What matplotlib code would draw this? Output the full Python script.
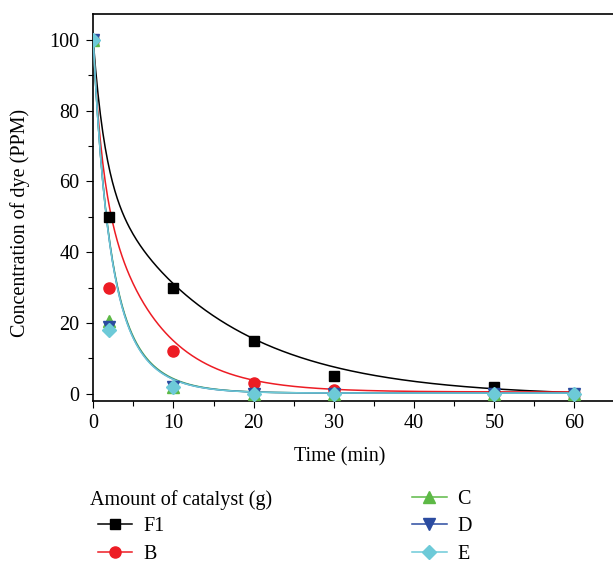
import numpy as np
import matplotlib
matplotlib.use('Agg')
import matplotlib.pyplot as plt
from matplotlib.lines import Line2D

plt.rcParams['font.family'] = ['Liberation Serif', 'DejaVu Serif']
plt.rcParams['font.size'] = 14.5

# measured points
time = [0, 2, 10, 20, 30, 50, 60]
f1 = [100, 50, 30, 15, 5, 2, 0]
b = [100, 30, 12, 3, 1, 0, 0]
c = [100, 20.5, 2, 0, 0, 0, 0]
d = [100, 19, 2, 0, 0, 0, 0]
e = [100, 18, 2, 0, 0, 0, 0]

# ExpDec2 fit parameters: A1, t1, A2, t2, y0
fit_f1 = [38.8, 1.5, 62.0, 15.0, -0.8]
fit_b = [36.5, 1.07, 63.0, 6.8, 0.5]
fit_c = [53.0, 1.6, 46.8, 4.05, 0.2]
fit_d = [53.5, 1.6, 46.3, 4.0, 0.2]
fit_e = [53.8, 1.6, 46.0, 3.98, 0.2]

labels = ['F1', 'B', 'C', 'D', 'E']
colors = ['black', '#ED1C24', '#5DB946', '#2B4BA0', '#6DCAD8']
markers = ['s', 'o', '^', 'v', 'D']
msizes = [7, 8, 8, 8, 7]


def expdec2(t, p):
    a1, t1, a2, t2, y0 = p
    return a1 * np.exp(-t / t1) + a2 * np.exp(-t / t2) + y0


fig = plt.figure(figsize=(6.13, 5.63), dpi=100)
ax = fig.add_axes([0.152, 0.288, 0.848, 0.687])

tt = np.linspace(0, 60, 400)
series = [f1, b, c, d, e]
fits = [fit_f1, fit_b, fit_c, fit_d, fit_e]
for i, (ys, p) in enumerate(zip(series, fits)):
    ax.plot(tt, expdec2(tt, p), color=colors[i], lw=1.1, zorder=2 + i)
    ax.plot(time, ys, linestyle='none', marker=markers[i], ms=msizes[i],
            color=colors[i], mec=colors[i], zorder=10 + i)

ax.set_xlim(0, 64.8)
ax.set_ylim(-2, 107.3)
ax.set_xticks(range(0, 61, 10))
ax.set_xticks(range(5, 61, 10), minor=True)
ax.set_yticks(range(0, 101, 20))
ax.set_yticks(range(10, 101, 20), minor=True)
ax.tick_params(which='major', direction='out', length=4.7, width=0.8, pad=5)
ax.tick_params(which='minor', direction='out', length=3.6, width=0.8)
ax.spines['right'].set_visible(False)
for s in ['left', 'bottom', 'top']:
    ax.spines[s].set_linewidth(1.2)

ax.set_xlabel('Time (min)')
ax.set_ylabel('Concentration of dye (PPM)')
ax.xaxis.set_label_coords(0.475, -0.12)
ax.yaxis.set_label_coords(-0.121, 0.46)

# legend: title cell in first column, entries arranged column-wise
handles = [Line2D([], [], linestyle='none')]
for i in range(5):
    handles.append(Line2D([], [], color=colors[i], marker=markers[i],
                          ms=msizes[i], lw=1.1))
leg_labels = [''] + labels
fig.legend(handles, leg_labels, ncol=2, frameon=False, loc='upper left',
           bbox_to_anchor=(98 / 613, 1 - 490 / 563),
           handlelength=1.7, handletextpad=0.55, columnspacing=12.3,
           labelspacing=0.41, borderaxespad=0, borderpad=0)
fig.text(90 / 613, 1 - 500 / 563, 'Amount of catalyst (g)', ha='left', va='center')

fig.savefig('out.png', dpi=100)
